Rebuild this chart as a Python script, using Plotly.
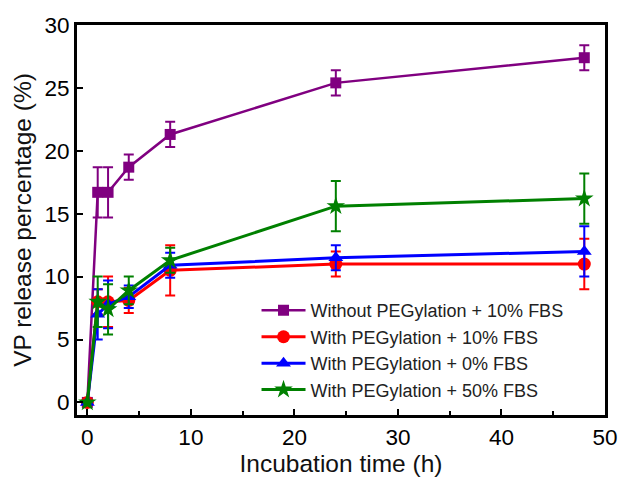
import plotly.graph_objects as go

# Incubation time points (h)
time_h = [0, 1, 2, 4, 8, 24, 48]

# Cumulative VP release (%) and standard deviations
no_peg_10fbs = [0, 16.7, 16.7, 18.7, 21.3, 25.4, 27.4]
no_peg_10fbs_sd = [0, 2.0, 2.0, 1.0, 1.0, 1.0, 1.0]

peg_10fbs = [0, 8.0, 8.0, 8.1, 10.5, 11.0, 11.0]
peg_10fbs_sd = [0, 1.0, 2.0, 1.0, 2.0, 1.0, 2.0]

peg_0fbs = [0, 7.0, 7.8, 8.4, 10.9, 11.5, 12.0]
peg_0fbs_sd = [0, 2.0, 1.9, 0.9, 1.0, 1.0, 2.0]

peg_50fbs = [0, 8.0, 7.4, 8.9, 11.3, 15.6, 16.2]
peg_50fbs_sd = [0, 2.0, 2.0, 1.1, 1.0, 2.0, 2.0]

series = [
    ("Without PEGylation + 10% FBS", no_peg_10fbs, no_peg_10fbs_sd, "#800080", "square", 11, 2.5),
    ("With PEGylation + 10% FBS", peg_10fbs, peg_10fbs_sd, "#FF0000", "circle", 13, 3),
    ("With PEGylation + 0% FBS", peg_0fbs, peg_0fbs_sd, "#0000FF", "triangle-up", 13, 3),
    ("With PEGylation + 50% FBS", peg_50fbs, peg_50fbs_sd, "#008000", "star", 14, 3),
]

fig = go.Figure()
for name, y, sd, color, symbol, size, lw in series:
    fig.add_trace(go.Scatter(
        x=time_h, y=y, name=name, mode="lines+markers",
        line=dict(color=color, width=lw),
        marker=dict(symbol=symbol, size=size, color=color, line=dict(width=0)),
        error_y=dict(type="data", array=sd, visible=True, color=color,
                     thickness=2, width=5),
    ))

family = "Liberation Sans, Arial, sans-serif"
tick_font = dict(family=family, size=22.5, color="black")
title_font = dict(family=family, size=24.5, color="#111")

fig.update_layout(
    width=630, height=483,
    margin=dict(l=77, r=17, t=25, b=64),
    plot_bgcolor="white", paper_bgcolor="white",
    font=tick_font,
    showlegend=True,
    legend=dict(
        x=0.34, y=0.315, xanchor="left", yanchor="top",
        bgcolor="rgba(0,0,0,0)", borderwidth=0,
        font=dict(family=family, size=18, color="#222"),
        itemwidth=44, tracegroupgap=0,
    ),
)

fig.update_xaxes(
    range=[-1.0, 50.0], tickmode="array", tickvals=[0, 10, 20, 30, 40, 50],
    ticks="inside", ticklen=6, tickwidth=2, tickcolor="black",
    minor=dict(tickvals=[5, 15, 25, 35, 45], ticks="inside", ticklen=4, tickwidth=2, tickcolor="black"),
    showline=True, linewidth=3, linecolor="black", mirror=True,
    showgrid=False, zeroline=False,
    title=dict(text="Incubation time (h)", font=title_font, standoff=4),
    tickfont=tick_font,
)
fig.update_yaxes(
    range=[-1.0, 30], tickmode="array", tickvals=[0, 5, 10, 15, 20, 25, 30],
    ticks="inside", ticklen=6, tickwidth=2, tickcolor="black",
    showline=True, linewidth=3, linecolor="black", mirror=True,
    showgrid=False, zeroline=False,
    title=dict(text="VP release percentage (%)", font=title_font, standoff=6),
    tickfont=tick_font,
)

fig.write_html("out.html")
